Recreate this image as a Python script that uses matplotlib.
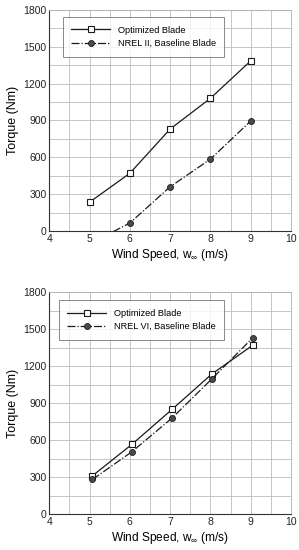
import matplotlib
matplotlib.use("Agg")
import matplotlib.pyplot as plt
import numpy as np

plt.rcParams['font.family'] = ['Liberation Sans', 'DejaVu Sans']
plt.rcParams['mathtext.fontset'] = 'custom'
plt.rcParams['mathtext.rm'] = 'Liberation Sans'
plt.rcParams['mathtext.it'] = 'Liberation Sans'

# Top panel data
top_opt_x = [5, 6, 7, 8, 9]
top_opt_y = [235, 470, 830, 1080, 1385]
top_base_x = [5, 6, 7, 8, 9]
top_base_y = [-105, 65, 360, 585, 895]
top_labels = ["Optimized Blade", "NREL II, Baseline Blade"]

# Bottom panel data
bot_opt_x = [5.07, 6.05, 7.05, 8.03, 9.05]
bot_opt_y = [310, 565, 850, 1135, 1370]
bot_base_x = [5.07, 6.05, 7.05, 8.03, 9.05]
bot_base_y = [280, 505, 780, 1095, 1430]
bot_labels = ["Optimized Blade", "NREL VI, Baseline Blade"]

xticks = [4, 5, 6, 7, 8, 9, 10]
yticks = [0, 300, 600, 900, 1200, 1500, 1800]

fig = plt.figure(figsize=(2.99, 5.5), dpi=100)
ax1 = fig.add_axes([0.165, 0.58, 0.808, 0.402])
ax2 = fig.add_axes([0.165, 0.0655, 0.808, 0.403])

def style(ax, ox, oy, bx, by, labels, leg_bbox):
    ax.plot(ox, oy, '-', color='#1a1a1a', lw=0.9, marker='s', ms=4,
            mfc='white', mec='#1a1a1a', mew=0.8, label=labels[0], zorder=3)
    ax.plot(bx, by, '-.', color='#1a1a1a', lw=0.9, marker='o', ms=4.3,
            mfc='#4a4a4a', mec='#1a1a1a', mew=0.6, label=labels[1], zorder=3)
    ax.set_xlim(4, 10)
    ax.set_ylim(0, 1800)
    ax.set_xticks(xticks)
    ax.set_yticks(yticks)
    ax.set_xticks(np.arange(4, 10.01, 0.5), minor=True)
    ax.set_yticks(np.arange(0, 1801, 150), minor=True)
    ax.grid(True, which='both', color='#bdbdbd', lw=0.6)
    ax.set_axisbelow(True)
    ax.tick_params(which='both', length=0, labelsize=7.5, pad=2, colors='#222222')
    for s in ['top', 'right']:
        ax.spines[s].set_color('#b0b0b0')
        ax.spines[s].set_linewidth(0.6)
    for s in ['left', 'bottom']:
        ax.spines[s].set_color('#333333')
        ax.spines[s].set_linewidth(0.8)
    ax.set_xlabel(r'Wind Speed, w$_{\infty}$ (m/s)', fontsize=8.6, labelpad=2)
    ax.set_ylabel('Torque (Nm)', fontsize=9, labelpad=3)
    leg = ax.legend(loc='upper left', bbox_to_anchor=leg_bbox, fontsize=6.6,
                    frameon=True, fancybox=False, edgecolor='#555555',
                    handlelength=4.2, borderpad=0.95, labelspacing=0.45,
                    handletextpad=0.85, borderaxespad=0)
    leg.get_frame().set_linewidth(0.6)

style(ax1, top_opt_x, top_opt_y, top_base_x, top_base_y, top_labels, (0.055, 0.968))
style(ax2, bot_opt_x, bot_opt_y, bot_base_x, bot_base_y, bot_labels, (0.039, 0.965))

fig.savefig('out.png', dpi=100)
